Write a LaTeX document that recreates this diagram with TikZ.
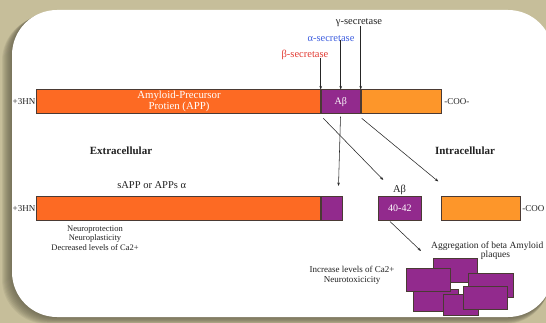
\documentclass[tikz,border=0pt]{standalone}
\usepackage{fontspec}
\setmainfont{Liberation Serif}
\usetikzlibrary{arrows.meta}
\definecolor{bgtan}{HTML}{C6BE9A}
\definecolor{shadecol}{HTML}{5E5A46}
\definecolor{apporange}{HTML}{FD6A23}
\definecolor{abpurple}{HTML}{922A8D}
\definecolor{ctorange}{HTML}{FD962A}
\definecolor{edgecol}{HTML}{4A3A34}
\definecolor{alphablue}{HTML}{3F5FE0}
\definecolor{betared}{HTML}{E23A32}
\definecolor{txtcol}{HTML}{222222}
\begin{document}
\begin{tikzpicture}[x=1pt,y=-1pt,
  seg/.style={draw=edgecol, line width=0.7pt, minimum height=23.5pt, inner sep=0pt, anchor=north west},
  blk/.style={draw=edgecol, line width=0.7pt, fill=abpurple, inner sep=0pt, anchor=north west},
  lbl/.style={inner sep=0pt, text=txtcol, font=\fontsize{9}{10}\selectfont},
  sec/.style={inner sep=0pt, font=\fontsize{10.5}{12}\selectfont},
  arr/.style={-{Stealth[length=3.5pt,width=2.6pt]}, line width=0.55pt, draw=black!85}]
\useasboundingbox (0,0) rectangle (546,323);
\clip (0,0) rectangle (546,323);
\fill[bgtan] (0,0) rectangle (546,323);
% shadow of the panel
\foreach \d in {1,...,10}{
  \fill[shadecol, opacity=0.11, rounded corners=45pt] (12-\d,10+0.6*\d) rectangle (553-0.3*\d,317+0.7*\d);
}
\fill[white, rounded corners=45pt] (12,10) rectangle (553,317);

% top bar
\node[seg, fill=apporange, minimum width=284pt] (app) at (36,89.5) {};
\node[seg, fill=abpurple, minimum width=39.3pt, text=white, font=\fontsize{10}{12}\selectfont] (ab) at (app.north east) {Aβ};
\node[seg, fill=ctorange, minimum width=80.7pt] (ct) at (ab.north east) {};
\node[inner sep=0pt, text=white, align=center, font=\fontsize{10.8}{11}\selectfont] (apptxt) at (179,101.5) {Amyloid-Precursor\\Protien (APP)};
\node[lbl, anchor=east] (nterm1) at ([xshift=-0.5pt]app.west) {+3HN};
\node[lbl, anchor=west] (cterm1) at ([xshift=2pt]ct.east) {-COO-};

% secretases
\node[sec, text=txtcol] (gam) at (359,23) {γ-secretase};
\node[sec, text=alphablue] (alp) at (331,38.3) {α-secretase};
\node[sec, text=betared] (bet) at (305,54.5) {β-secretase};
\draw[arr] ([yshift=1.5pt]gam.south -| ab.north east) -- (ab.north east);
\draw[arr] ([yshift=1.5pt]alp.south -| ab.north) -- (ab.north);
\draw[arr] ([yshift=1.5pt]bet.south -| ab.north west) -- (ab.north west);

% region labels
\node[inner sep=0pt, text=txtcol, font=\bfseries\fontsize{11}{12}\selectfont] (extra) at (121,151) {Extracellular};
\node[inner sep=0pt, text=txtcol, font=\bfseries\fontsize{11}{12}\selectfont] (intra) at (465,151) {Intracellular};
\node[sec, text=txtcol] (sapptxt) at (151.7,185) {sAPP or APPs α};

% second row
\node[seg, fill=apporange, minimum width=284pt] (sapp) at (36,196.5) {};
\node[seg, fill=abpurple, minimum width=21pt] (sab) at (sapp.north east) {};
\node[lbl, anchor=east] (nterm2) at ([xshift=-0.5pt]sapp.west) {+3HN};
\node[seg, fill=abpurple, minimum width=43pt, text=white, font=\fontsize{10}{12}\selectfont] (ab42) at (378,196.5) {40-42};
\node[sec, text=txtcol] (abtxt) at (399.5,189.5) {Aβ};
\node[seg, fill=ctorange, minimum width=79.5pt] (ct2) at (440.5,196.5) {};
\node[lbl, anchor=west] (cterm2) at ([xshift=1.5pt]ct2.east) {-COO};

% cleavage arrows
\coordinate (s1) at (323.3,118.3);
\coordinate (s2) at (340.5,116.7);
\coordinate (s3) at (361.7,118.3);
\coordinate (e1) at (383.3,180);
\coordinate (e2) at (338.5,186);
\coordinate (e3) at (438.3,181.5);
\draw[arr] (s1) -- (e1);
\draw[arr] (s2) -- (e2);
\draw[arr] (s3) -- (e3);

% texts
\node[lbl, align=center, font=\fontsize{8.5}{9.7}\selectfont] (neuro) at (95,238) {Neuroprotection\\Neuroplasticity\\Decreased levels of Ca2+};
\node[lbl, align=center, font=\fontsize{9}{10}\selectfont] (incr) at (352,275) {Increase levels of Ca2+\\Neurotoxicicity};
\node[lbl, anchor=west, font=\fontsize{9.5}{11}\selectfont] (aggr) at (431,245.7) {Aggregation of beta Amyloid};
\node[lbl, font=\fontsize{9.5}{11}\selectfont] (plaq) at (495.5,255.7) {plaques};

% arrow to plaques
\coordinate (s4) at (390,221.5);
\coordinate (e4) at (421,251);
\draw[arr] (s4) -- (e4);

% plaques
\node[blk, minimum width=43.4pt, minimum height=23.4pt] (p1) at (433.3,258.3) {};
\node[blk, minimum width=45pt, minimum height=22pt] (p4) at (413.3,289) {};
\node[blk, minimum width=44pt, minimum height=23.3pt] (p2) at (406,267.7) {};
\node[blk, minimum width=44.4pt, minimum height=23.4pt] (p3) at (468.3,273.3) {};
\node[blk, minimum width=35.6pt, minimum height=21pt] (p5) at (442.7,294) {};
\node[blk, minimum width=43.4pt, minimum height=23.3pt] (p6) at (463.3,286) {};
\end{tikzpicture}
\end{document}
